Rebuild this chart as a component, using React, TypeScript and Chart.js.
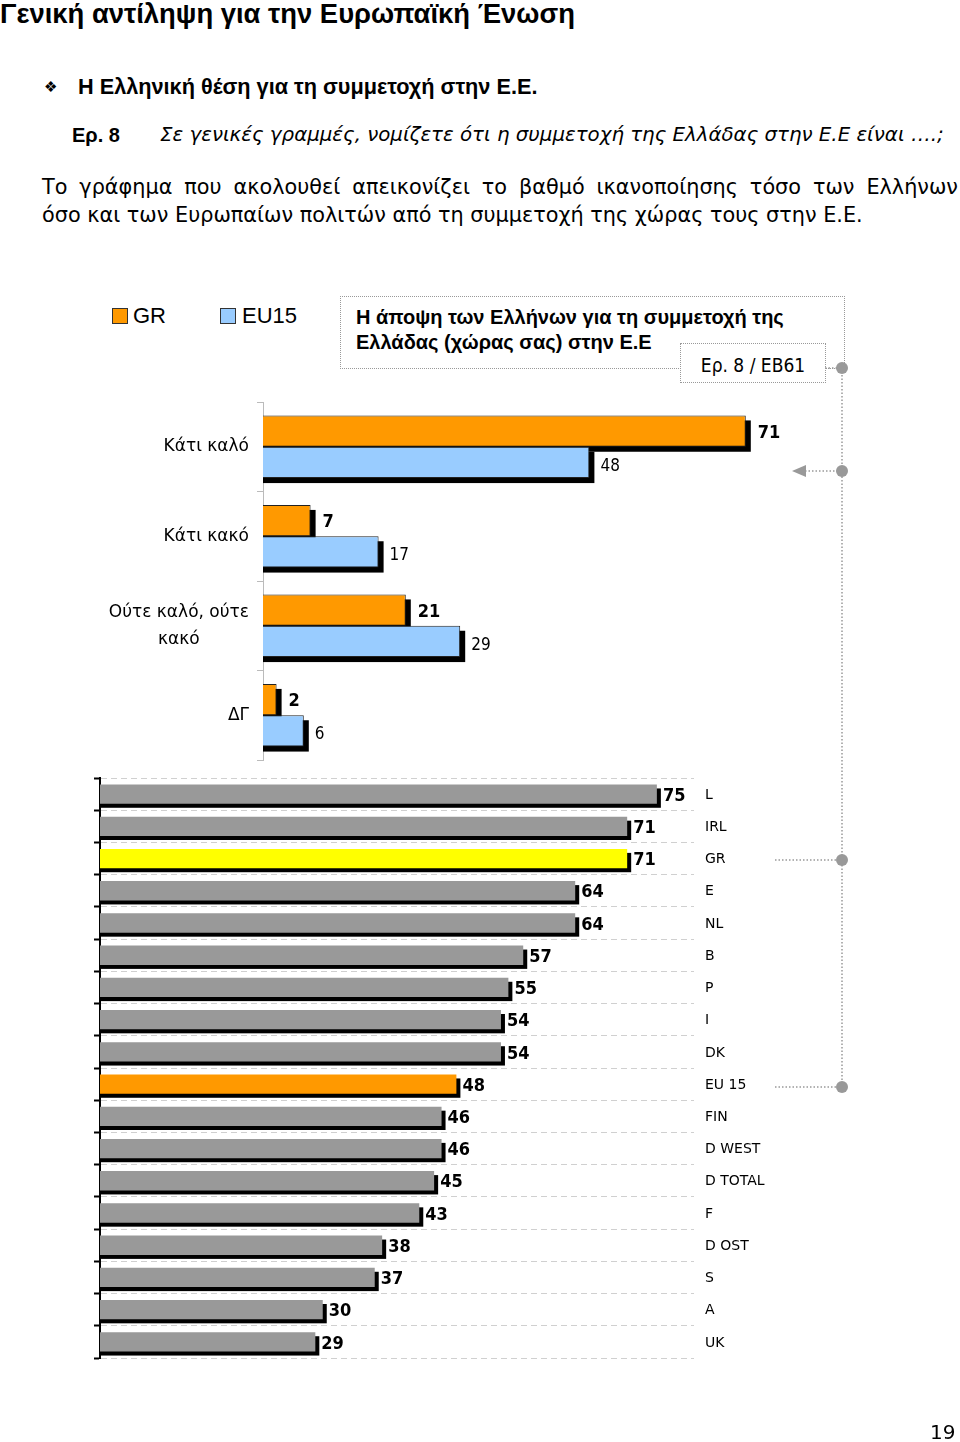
import React, { useEffect, useRef } from "react";
import { Chart, registerables } from "chart.js";

Chart.register(...registerables);

// ---------- data ----------
const topCategories: (string | string[])[] = ["Κάτι καλό", "Κάτι κακό", ["Ούτε καλό, ούτε", "κακό"], "ΔΓ"];
const topSeriesNames = ["GR", "EU15"];
const grValues = [71, 7, 21, 2];
const eu15Values = [48, 17, 29, 6];

const countryLabels = ["L", "IRL", "GR", "E", "NL", "B", "P", "I", "DK", "EU 15", "FIN", "D WEST", "D TOTAL", "F", "D OST", "S", "A", "UK"];
const countryValues = [75, 71, 71, 64, 64, 57, 55, 54, 54, 48, 46, 46, 45, 43, 38, 37, 30, 29];

const valueAxisMax = 80;

// ---------- fonts ----------
const COND = '"DejaVu Sans Condensed", "Liberation Sans Narrow", "DejaVu Sans", sans-serif';
const SANS = '"DejaVu Sans", sans-serif';
const ARIAL = '"Liberation Sans", Arial, sans-serif';

// ---------- plugins ----------
function makeShadowPlugin(offset: number) {
  return {
    id: "barShadow",
    beforeDatasetsDraw(chart: any) {
      const ctx = chart.ctx;
      ctx.save();
      ctx.fillStyle = "#000";
      chart.data.datasets.forEach((_ds: any, di: number) => {
        const meta = chart.getDatasetMeta(di);
        meta.data.forEach((bar: any) => {
          const p = bar.getProps(["x", "y", "base", "height"], true);
          const left = Math.min(p.base, p.x);
          const right = Math.max(p.base, p.x);
          ctx.fillRect(left, p.y - p.height / 2 + offset, right - left + offset, p.height);
        });
      });
      ctx.restore();
    },
  };
}

type LabelStyle = { font: string; color: string; dx: number; dy: number };
function makeValueLabelPlugin(styles: LabelStyle[]) {
  return {
    id: "valueLabels",
    afterDatasetsDraw(chart: any) {
      const ctx = chart.ctx;
      ctx.save();
      ctx.textBaseline = "middle";
      ctx.textAlign = "left";
      chart.data.datasets.forEach((ds: any, di: number) => {
        const st = styles[di];
        const meta = chart.getDatasetMeta(di);
        meta.data.forEach((bar: any, i: number) => {
          const p = bar.getProps(["x", "y"], true);
          ctx.font = st.font;
          ctx.fillStyle = st.color;
          ctx.fillText(String(ds.data[i]), p.x + st.dx, p.y + st.dy);
        });
      });
      ctx.restore();
    },
  };
}

function makeCategoryLabelPlugin(side: "left" | "right", x: number, font: string, lineHeight: number, dy: number) {
  return {
    id: "categoryLabels",
    afterDraw(chart: any) {
      const scale = chart.scales.y;
      const ctx = chart.ctx;
      ctx.save();
      ctx.font = font;
      ctx.fillStyle = "#000";
      ctx.textBaseline = "middle";
      (chart.data.labels as (string | string[])[]).forEach((lab, i) => {
        const y = scale.getPixelForValue(i) + dy;
        const lines = Array.isArray(lab) ? lab : [lab];
        if (side === "left") {
          if (lines.length > 1) {
            const widest = Math.max(...lines.map((l) => ctx.measureText(l).width));
            ctx.textAlign = "center";
            const cx = x - widest / 2;
            lines.forEach((l, k) => ctx.fillText(l, cx, y + (k - (lines.length - 1) / 2) * lineHeight));
          } else {
            ctx.textAlign = "right";
            ctx.fillText(lines[0], x, y);
          }
        } else {
          ctx.textAlign = "left";
          lines.forEach((l, k) => ctx.fillText(l, x, y + (k - (lines.length - 1) / 2) * lineHeight));
        }
      });
      ctx.restore();
    },
  };
}

// ---------- chart configs ----------
function topConfig(): any {
  return {
    type: "bar",
    data: {
      labels: topCategories,
      datasets: [
        {
          label: topSeriesNames[0],
          data: grValues,
          backgroundColor: "#FF9900",
          borderColor: "#222",
          borderWidth: 1,
          categoryPercentage: 0.7,
          barPercentage: 1,
        },
        {
          label: topSeriesNames[1],
          data: eu15Values,
          backgroundColor: "#99CCFF",
          borderColor: "#222",
          borderWidth: 1,
          categoryPercentage: 0.7,
          barPercentage: 1,
        },
      ],
    },
    options: {
      indexAxis: "y",
      animation: false,
      responsive: false,
      devicePixelRatio: 1,
      layout: { padding: { left: 0, top: 10, bottom: 12, right: 153 } },
      plugins: { legend: { display: false }, tooltip: { enabled: false } },
      scales: {
        x: { display: false, min: 0, max: valueAxisMax },
        y: {
          ticks: { display: false },
          grid: { display: true, drawOnChartArea: false, tickLength: 6, tickColor: "#bbb", tickWidth: 1 },
          border: { display: true, color: "#bbb", width: 1 },
          afterFit: (s: any) => {
            s.width = 263;
          },
        },
      },
    },
    plugins: [
      makeShadowPlugin(5),
      makeValueLabelPlugin([
        { font: `bold 18px ${COND}`, color: "#000", dx: 12, dy: 2 },
        { font: `17px ${COND}`, color: "#000", dx: 11, dy: 4 },
      ]),
      makeCategoryLabelPlugin("left", 249, `17px ${SANS}`, 27, 0),
    ],
  };
}

function bottomConfig(): any {
  return {
    type: "bar",
    data: {
      labels: countryLabels,
      datasets: [
        {
          label: "Κάτι καλό",
          data: countryValues,
          backgroundColor: countryLabels.map((c) => (c === "GR" ? "#FFFF00" : c === "EU 15" ? "#FF9900" : "#999999")),
          borderWidth: 0,
          categoryPercentage: 1,
          barPercentage: 0.6,
        },
      ],
    },
    options: {
      indexAxis: "y",
      animation: false,
      responsive: false,
      devicePixelRatio: 1,
      layout: { padding: { left: 0, top: 8, bottom: 12, right: 266 } },
      plugins: { legend: { display: false }, tooltip: { enabled: false } },
      scales: {
        x: { display: false, min: 0, max: valueAxisMax },
        y: {
          ticks: { display: false },
          grid: {
            display: true,
            drawOnChartArea: true,
            color: "#d0d0d0",
            lineWidth: 1,
            tickLength: 6,
            tickColor: "#000",
            tickWidth: 2,
          },
          border: { display: true, color: "#000", width: 2, dash: [6, 4] },
          afterFit: (s: any) => {
            s.width = 100;
          },
        },
      },
    },
    plugins: [
      makeShadowPlugin(4),
      makeValueLabelPlugin([{ font: `bold 18px ${COND}`, color: "#000", dx: 6, dy: 2 }]),
      makeCategoryLabelPlugin("right", 705, `14px ${SANS}`, 16, 1),
    ],
  };
}

function ChartCanvas({ make, left, top, width, height }: { make: () => any; left: number; top: number; width: number; height: number }) {
  const ref = useRef<HTMLCanvasElement | null>(null);
  useEffect(() => {
    if (!ref.current) return;
    const chart = new Chart(ref.current, make());
    return () => chart.destroy();
  }, []);
  return (
    <canvas
      ref={ref}
      width={width}
      height={height}
      style={{ position: "absolute", left, top, width, height, display: "block" }}
    />
  );
}

const abs = (left: number, top: number, extra: React.CSSProperties = {}): React.CSSProperties => ({
  position: "absolute",
  left,
  top,
  whiteSpace: "nowrap",
  margin: 0,
  ...extra,
});

export default function App() {
  const dot = "#999";
  return (
    <div
      style={{
        position: "absolute",
        left: 0,
        top: 0,
        width: 960,
        height: 1442,
        background: "#fff",
        overflow: "hidden",
        fontFamily: SANS,
        color: "#000",
      }}
    >
      {/* headings */}
      <div style={abs(0, -3, { font: `bold 27.4px ${ARIAL}`, lineHeight: "34px" })}>
        Γενική αντίληψη για την Ευρωπαϊκή Ένωση
      </div>
      <div style={abs(44, 75, { font: `15px ${SANS}`, lineHeight: "24px" })}>❖</div>
      <div style={abs(78, 75, { font: `bold 21.7px ${ARIAL}`, lineHeight: "24px" })}>
        Η Ελληνική θέση για τη συμμετοχή στην Ε.Ε.
      </div>
      <div style={abs(72, 123, { font: `bold 20px ${ARIAL}`, lineHeight: "24px" })}>Ερ. 8</div>
      <div style={abs(160, 123, { font: `italic 19.8px ${SANS}`, lineHeight: "24px" })}>
        Σε γενικές γραμμές, νομίζετε ότι η συμμετοχή της Ελλάδας στην Ε.Ε είναι ….;
      </div>
      <div
        style={abs(42, 175, {
          font: `20.8px ${SANS}`,
          lineHeight: "24px",
          width: 916,
          textAlign: "justify",
          textAlignLast: "justify",
          whiteSpace: "normal",
        })}
      >
        Το γράφημα που ακολουθεί απεικονίζει το βαθμό ικανοποίησης τόσο των Ελλήνων
      </div>
      <div style={abs(42, 203, { font: `20.8px ${SANS}`, lineHeight: "24px" })}>
        όσο και των Ευρωπαίων πολιτών από τη συμμετοχή της χώρας τους στην Ε.Ε.
      </div>

      {/* legend */}
      <div style={abs(112, 308, { width: 14, height: 14, background: "#FF9900", border: "1px solid #333" })} />
      <div style={abs(133, 302, { font: `22px ${ARIAL}`, lineHeight: "28px" })}>{topSeriesNames[0]}</div>
      <div style={abs(220, 308, { width: 14, height: 14, background: "#99CCFF", border: "1px solid #333" })} />
      <div style={abs(242, 302, { font: `22px ${ARIAL}`, lineHeight: "28px" })}>{topSeriesNames[1]}</div>

      {/* title box */}
      <div style={abs(340, 296, { width: 503, height: 71, border: `1px dotted ${dot}` })} />
      <div style={abs(356, 305, { font: `bold 20px ${ARIAL}`, lineHeight: "25px" })}>
        Η άποψη των Ελλήνων για τη συμμετοχή της
        <br />
        Ελλάδας (χώρας σας) στην Ε.Ε
      </div>
      <div
        style={abs(680, 343, {
          width: 144,
          height: 38,
          border: `1px dotted ${dot}`,
          background: "#fff",
          font: `19px ${COND}`,
          lineHeight: "42px",
          textAlign: "center",
        })}
      >
        Ερ. 8 / EB61
      </div>

      {/* charts */}
      <ChartCanvas make={topConfig} left={0} top={392} width={960} height={380} />
      <ChartCanvas make={bottomConfig} left={0} top={770} width={960} height={600} />

      {/* connectors */}
      <svg
        width={960}
        height={1442}
        style={{ position: "absolute", left: 0, top: 0, pointerEvents: "none" }}
      >
        <g stroke={dot} strokeWidth={1.5} strokeDasharray="1.5 2" fill="none">
          <line x1={842} y1={368} x2={842} y2={1087} />
          <line x1={825} y1={368} x2={842} y2={368} />
          <line x1={805} y1={471} x2={842} y2={471} />
          <line x1={775} y1={860} x2={842} y2={860} />
          <line x1={775} y1={1087} x2={842} y2={1087} />
        </g>
        <polygon points="792,471 806,465 806,477" fill={dot} />
        <circle cx={842} cy={368} r={6} fill={dot} />
        <circle cx={842} cy={471} r={6} fill={dot} />
        <circle cx={842} cy={860} r={6} fill={dot} />
        <circle cx={842} cy={1087} r={6} fill={dot} />
      </svg>

      {/* page number */}
      <div style={abs(930, 1419, { font: `20px ${SANS}`, lineHeight: "26px" })}>19</div>
    </div>
  );
}
